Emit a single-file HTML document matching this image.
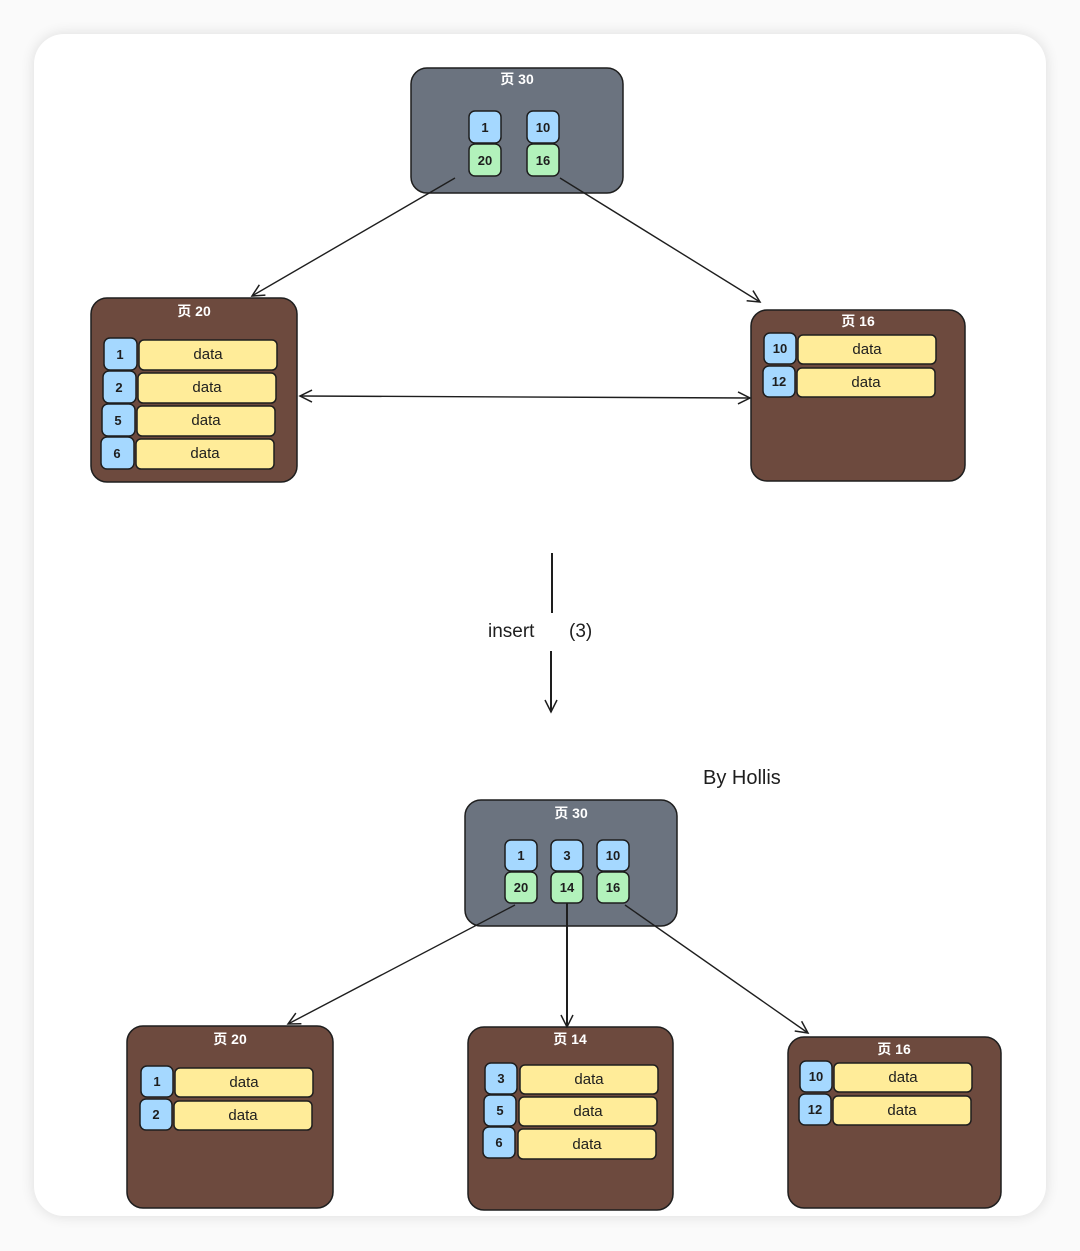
<!DOCTYPE html>
<html><head><meta charset="utf-8">
<style>
html,body{margin:0;padding:0;background:#fafafa;}
body{width:1080px;height:1251px;overflow:hidden;position:relative;}
.card{position:absolute;left:34px;top:34px;width:1012px;height:1182px;background:#fff;border-radius:30px;box-shadow:0 0 14px rgba(0,0,0,0.12);}
svg{position:absolute;left:0;top:0;}
text{font-family:"Liberation Sans","Noto Sans CJK SC",sans-serif;}
</style></head><body>
<div class="card"></div>
<svg width="1080" height="1251" viewBox="0 0 1080 1251">
<defs>
<marker id="ah" markerWidth="16" markerHeight="16" refX="13" refY="8" orient="auto" markerUnits="userSpaceOnUse">
<path d="M1,2 L13,8 L1,14" fill="none" stroke="#1e1e1e" stroke-width="1.5"/>
</marker>
<marker id="ahs" markerWidth="16" markerHeight="16" refX="3" refY="8" orient="auto" markerUnits="userSpaceOnUse">
<path d="M15,2 L3,8 L15,14" fill="none" stroke="#1e1e1e" stroke-width="1.5"/>
</marker>
</defs>
<g stroke="#1e1e1e" stroke-width="1.5">
<rect x="411" y="68" width="212" height="125" rx="16" fill="#6b737f"/>
<rect x="469" y="111" width="32" height="32" rx="6" fill="#a5d8ff"/>
<rect x="527" y="111" width="32" height="32" rx="6" fill="#a5d8ff"/>
<rect x="469" y="144" width="32" height="32" rx="6" fill="#b2f2bb"/>
<rect x="527" y="144" width="32" height="32" rx="6" fill="#b2f2bb"/>
<rect x="91" y="298" width="206" height="184" rx="16" fill="#6d4a3e"/>
<rect x="104" y="338" width="33" height="32" rx="6" fill="#a5d8ff"/><rect x="139" y="340" width="138" height="30" rx="5" fill="#ffec99"/>
<rect x="103" y="371" width="33" height="32" rx="6" fill="#a5d8ff"/><rect x="138" y="373" width="138" height="30" rx="5" fill="#ffec99"/>
<rect x="102" y="404" width="33" height="32" rx="6" fill="#a5d8ff"/><rect x="137" y="406" width="138" height="30" rx="5" fill="#ffec99"/>
<rect x="101" y="437" width="33" height="32" rx="6" fill="#a5d8ff"/><rect x="136" y="439" width="138" height="30" rx="5" fill="#ffec99"/>
<rect x="751" y="310" width="214" height="171" rx="16" fill="#6d4a3e"/>
<rect x="764" y="333" width="32" height="31" rx="6" fill="#a5d8ff"/><rect x="798" y="335" width="138" height="29" rx="5" fill="#ffec99"/>
<rect x="763" y="366" width="32" height="31" rx="6" fill="#a5d8ff"/><rect x="797" y="368" width="138" height="29" rx="5" fill="#ffec99"/>
<rect x="465" y="800" width="212" height="126" rx="16" fill="#6b737f"/>
<rect x="505" y="840" width="32" height="31" rx="6" fill="#a5d8ff"/>
<rect x="551" y="840" width="32" height="31" rx="6" fill="#a5d8ff"/>
<rect x="597" y="840" width="32" height="31" rx="6" fill="#a5d8ff"/>
<rect x="505" y="872" width="32" height="31" rx="6" fill="#b2f2bb"/>
<rect x="551" y="872" width="32" height="31" rx="6" fill="#b2f2bb"/>
<rect x="597" y="872" width="32" height="31" rx="6" fill="#b2f2bb"/>
<rect x="127" y="1026" width="206" height="182" rx="16" fill="#6d4a3e"/>
<rect x="141" y="1066" width="32" height="31" rx="6" fill="#a5d8ff"/><rect x="175" y="1068" width="138" height="29" rx="5" fill="#ffec99"/>
<rect x="140" y="1099" width="32" height="31" rx="6" fill="#a5d8ff"/><rect x="174" y="1101" width="138" height="29" rx="5" fill="#ffec99"/>
<rect x="468" y="1027" width="205" height="183" rx="16" fill="#6d4a3e"/>
<rect x="485" y="1063" width="32" height="31" rx="6" fill="#a5d8ff"/><rect x="520" y="1065" width="138" height="29" rx="5" fill="#ffec99"/>
<rect x="484" y="1095" width="32" height="31" rx="6" fill="#a5d8ff"/><rect x="519" y="1097" width="138" height="29" rx="5" fill="#ffec99"/>
<rect x="483" y="1127" width="32" height="31" rx="6" fill="#a5d8ff"/><rect x="518" y="1129" width="138" height="30" rx="5" fill="#ffec99"/>
<rect x="788" y="1037" width="213" height="171" rx="16" fill="#6d4a3e"/>
<rect x="800" y="1061" width="32" height="31" rx="6" fill="#a5d8ff"/><rect x="834" y="1063" width="138" height="29" rx="5" fill="#ffec99"/>
<rect x="799" y="1094" width="32" height="31" rx="6" fill="#a5d8ff"/><rect x="833" y="1096" width="138" height="29" rx="5" fill="#ffec99"/>
</g>
<g stroke="#1e1e1e" stroke-width="1.4" fill="none">
<line x1="455" y1="178" x2="252" y2="296" marker-end="url(#ah)"/>
<line x1="560" y1="178" x2="760" y2="302" marker-end="url(#ah)"/>
<line x1="300" y1="396" x2="750" y2="398" marker-end="url(#ah)" marker-start="url(#ahs)"/>
<line x1="552" y1="553" x2="552" y2="613" stroke-width="2"/>
<line x1="551" y1="651" x2="551" y2="712" stroke-width="2" marker-end="url(#ah)"/>
<line x1="515" y1="905" x2="288" y2="1024" marker-end="url(#ah)"/>
<line x1="567" y1="903" x2="567" y2="1027" stroke-width="2" marker-end="url(#ah)"/>
<line x1="625" y1="905" x2="808" y2="1033" marker-end="url(#ah)"/>
</g>
<g font-size="14" fill="#fff" font-weight="bold" text-anchor="middle">
<text x="517" y="84">页 30</text>
<text x="194" y="316">页 20</text>
<text x="858" y="326">页 16</text>
<text x="571" y="818">页 30</text>
<text x="230" y="1044">页 20</text>
<text x="570" y="1044">页 14</text>
<text x="894" y="1054">页 16</text>
</g>
<g font-size="13" fill="#1e1e1e" text-anchor="middle" font-weight="bold">
<text x="485" y="132">1</text><text x="543" y="132">10</text>
<text x="485" y="165">20</text><text x="543" y="165">16</text>
<text x="120" y="359">1</text><text x="119" y="392">2</text><text x="118" y="425">5</text><text x="117" y="458">6</text>
<text x="780" y="353">10</text><text x="779" y="386">12</text>
<text x="521" y="860">1</text><text x="567" y="860">3</text><text x="613" y="860">10</text>
<text x="521" y="892">20</text><text x="567" y="892">14</text><text x="613" y="892">16</text>
<text x="157" y="1086">1</text><text x="156" y="1119">2</text>
<text x="501" y="1083">3</text><text x="500" y="1115">5</text><text x="499" y="1147">6</text>
<text x="816" y="1081">10</text><text x="815" y="1114">12</text>
</g>
<g font-size="15" fill="#1e1e1e" text-anchor="middle">
<text x="208" y="359">data</text><text x="207" y="392">data</text><text x="206" y="425">data</text><text x="205" y="458">data</text>
<text x="867" y="354">data</text><text x="866" y="387">data</text>
<text x="244" y="1087">data</text><text x="243" y="1120">data</text>
<text x="589" y="1084">data</text><text x="588" y="1116">data</text><text x="587" y="1149">data</text>
<text x="903" y="1082">data</text><text x="902" y="1115">data</text>
</g>
<text x="488" y="637" font-size="19" fill="#1e1e1e">insert</text>
<text x="569" y="637" font-size="19" fill="#1e1e1e">(3)</text>
<text x="703" y="784" font-size="20" fill="#1e1e1e">By Hollis</text>
</svg>
</body></html>
